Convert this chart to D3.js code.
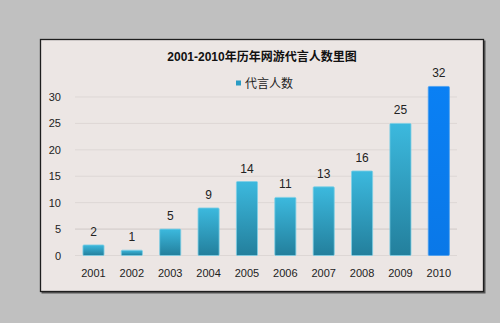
<!DOCTYPE html>
<html><head><meta charset="utf-8">
<script src="https://cdn.jsdelivr.net/npm/d3@7"></script>
<style>html,body{margin:0;padding:0;background:#c0c0c0;}svg{display:block;}</style>
</head><body>
<script>
const categories = ["2001","2002","2003","2004","2005","2006","2007","2008","2009","2010"];
const values = [2,1,5,9,14,11,13,16,25,32];
const yTicks = [0,5,10,15,20,25,30];
const seriesName = "代言人数";
const title = "2001-2010年历年网游代言人数里图";

const W = 500, H = 323;
const svg = d3.select("body").append("svg").attr("width", W).attr("height", H);
const defs = svg.append("defs");
const g1 = defs.append("linearGradient").attr("id","barg").attr("x1",0).attr("y1",0).attr("x2",0).attr("y2",1);
g1.append("stop").attr("offset","0%").attr("stop-color","#3cb9de");
g1.append("stop").attr("offset","100%").attr("stop-color","#237f9c");
const g2 = defs.append("linearGradient").attr("id","barb").attr("x1",0).attr("y1",0).attr("x2",0).attr("y2",1);
g2.append("stop").attr("offset","0%").attr("stop-color","#0a80f4");
g2.append("stop").attr("offset","100%").attr("stop-color","#0a78e8");

svg.append("rect").attr("width",W).attr("height",H).attr("fill","#c0c0c0");
// shadow
svg.append("rect").attr("x",41.5).attr("y",40.5).attr("width",444).attr("height",253).attr("fill","#555");
svg.append("rect").attr("x",40.5).attr("y",39.5).attr("width",443).attr("height",252)
  .attr("fill","#ece6e4").attr("stroke","#1e1e1e").attr("stroke-width",1.3);

const x = d3.scaleBand().domain(categories).range([74.3, 458]).paddingInner(0.45).paddingOuter(0.225);
const y = d3.scaleLinear().domain([0,30]).range([255.5, 97]);

const font = "'Liberation Sans','DejaVu Sans','Noto Sans CJK SC',sans-serif";

// gridlines
svg.append("g").selectAll("line").data(yTicks).join("line")
  .attr("x1",75).attr("x2",457).attr("y1",d=>y(d)).attr("y2",d=>y(d))
  .attr("stroke",d=>d===5?"#cfc9c7":"#ddd7d5").attr("stroke-width",1);

// y axis
const ya = svg.append("g").attr("transform","translate(61,0)")
  .call(d3.axisLeft(y).tickValues(yTicks).tickSize(0).tickPadding(0));
ya.select(".domain").remove();
ya.selectAll("text").attr("font-family",font).attr("font-size",11).attr("fill","#222");

// x axis
const xa = svg.append("g").attr("transform","translate(0,269)")
  .call(d3.axisBottom(x).tickSize(0).tickPadding(0));
xa.select(".domain").remove();
xa.selectAll("text").attr("font-family",font).attr("font-size",11).attr("fill","#222");

// bars
const data = categories.map((c,i)=>({c, v: values[i], i}));
svg.append("g").selectAll("rect").data(data).join("rect")
  .attr("x",d=>x(d.c)).attr("width",x.bandwidth())
  .attr("y",d=>y(d.v)).attr("height",d=>y(0)-y(d.v))
  .attr("fill",d=>d.i===categories.length-1?"url(#barb)":"url(#barg)")
  .attr("stroke",d=>d.i===categories.length-1?"#4aa0f0":"#7fcfe6").attr("stroke-width",0.8)
  .attr("rx",1);

// value labels
svg.append("g").selectAll("text").data(data).join("text")
  .attr("x",d=>x(d.c)+x.bandwidth()/2).attr("y",d=>y(d.v)-9)
  .attr("text-anchor","middle").attr("font-family",font).attr("font-size",12).attr("fill","#222")
  .text(d=>d.v);

// title
svg.append("text").attr("x",262).attr("y",61).attr("text-anchor","middle")
  .attr("font-family",font).attr("font-size",12).attr("font-weight","bold").attr("fill","#111")
  .text(title);

// legend
svg.append("rect").attr("x",236).attr("y",80.5).attr("width",5).attr("height",5).attr("fill","#2a9cc4");
svg.append("text").attr("x",245).attr("y",88).attr("font-family",font).attr("font-size",12).attr("fill","#222")
  .text(seriesName);
</script>
</body></html>
